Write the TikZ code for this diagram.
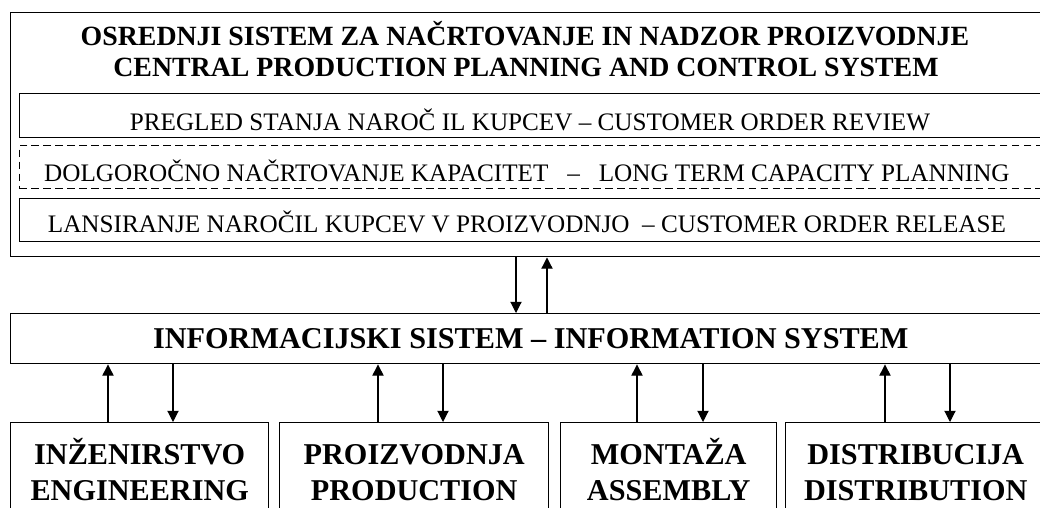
\documentclass[tikz,border=0pt]{standalone}
\usepackage{fontspec}
\setmainfont{Liberation Serif}
\usetikzlibrary{arrows.meta}

\tikzset{
  box/.style={draw, line width=1pt, rectangle, inner sep=0pt, anchor=north west},
  dbox/.style={box, line width=0.7pt, dash pattern=on 5.5pt off 3pt},
  txt/.style={anchor=base, inner sep=0pt, font=\fontsize{17.9}{21}\selectfont},
  ttl/.style={anchor=base, inner sep=0pt, font=\fontsize{19.8}{23}\selectfont\bfseries},
  big/.style={font=\fontsize{21.5}{26.2}\selectfont\bfseries, align=center,
              text height=40pt, text depth=0pt},
  flow/.style={line width=0.8pt, -{Triangle[width=8pt,length=8pt]}}
}

\begin{document}
\begin{tikzpicture}[x=0.025cm, y=-0.025cm]
\clip (0,0) rectangle (1040,507);

% central planning and control
\node[box, minimum width=26cm, minimum height=6.1cm] (central) at (10,12) {};
\node[ttl] (central-t1) at (525,45) {OSREDNJI SISTEM ZA NAČRTOVANJE IN NADZOR PROIZVODNJE};
\node[ttl] (central-t2) at (526,76) {CENTRAL PRODUCTION PLANNING AND CONTROL SYSTEM};

\node[box, minimum width=25.55cm, minimum height=1.1cm] (review) at (19,93) {};
\node[txt] (review-t) at (530,130) {PREGLED STANJA NAROČ IL KUPCEV – CUSTOMER ORDER REVIEW};

\node[dbox, minimum width=25.55cm, minimum height=1.075cm] (capacity) at (19,145) {};
\node[txt] (capacity-t) at (527,181) {DOLGOROČNO NAČRTOVANJE KAPACITET\ \ \ – \ \ LONG TERM CAPACITY PLANNING};

\node[box, minimum width=25.55cm, minimum height=1.075cm] (release) at (19,198) {};
\node[txt] (release-t) at (527,232) {LANSIRANJE NAROČIL KUPCEV V PROIZVODNJO\ \ – CUSTOMER ORDER RELEASE};

% information system
\node[box, minimum width=26cm, minimum height=1.25cm, font=\fontsize{21.5}{26}\selectfont\bfseries,
      text height=14.5pt, text depth=0pt] (info) at (10,313) {INFORMACIJSKI SISTEM – INFORMATION SYSTEM};

\draw[flow] (central.south -| 516,0) -- (info.north -| 516,0);
\draw[flow] (info.north -| 547,0) -- (central.south -| 547,0);

% departments
\node[box, big, minimum width=6.45cm, minimum height=2.5cm] (eng) at (10,422) {INŽENIRSTVO\\ENGINEERING};
\node[box, big, minimum width=6.725cm, minimum height=2.5cm] (prod) at (279,422) {PROIZVODNJA\\PRODUCTION};
\node[box, big, minimum width=5.4cm, minimum height=2.5cm] (asm) at (560,422) {MONTAŽA\\ASSEMBLY};
\node[box, big, minimum width=6.5cm, minimum height=2.5cm] (dist) at (785,422) {DISTRIBUCIJA\\DISTRIBUTION};

\draw[flow] (eng.north -| 108,0) -- (info.south -| 108,0);
\draw[flow] (info.south -| 173,0) -- (eng.north -| 173,0);
\draw[flow] (prod.north -| 378,0) -- (info.south -| 378,0);
\draw[flow] (info.south -| 443,0) -- (prod.north -| 443,0);
\draw[flow] (asm.north -| 637,0) -- (info.south -| 637,0);
\draw[flow] (info.south -| 703,0) -- (asm.north -| 703,0);
\draw[flow] (dist.north -| 885,0) -- (info.south -| 885,0);
\draw[flow] (info.south -| 950,0) -- (dist.north -| 950,0);
\end{tikzpicture}
\end{document}
